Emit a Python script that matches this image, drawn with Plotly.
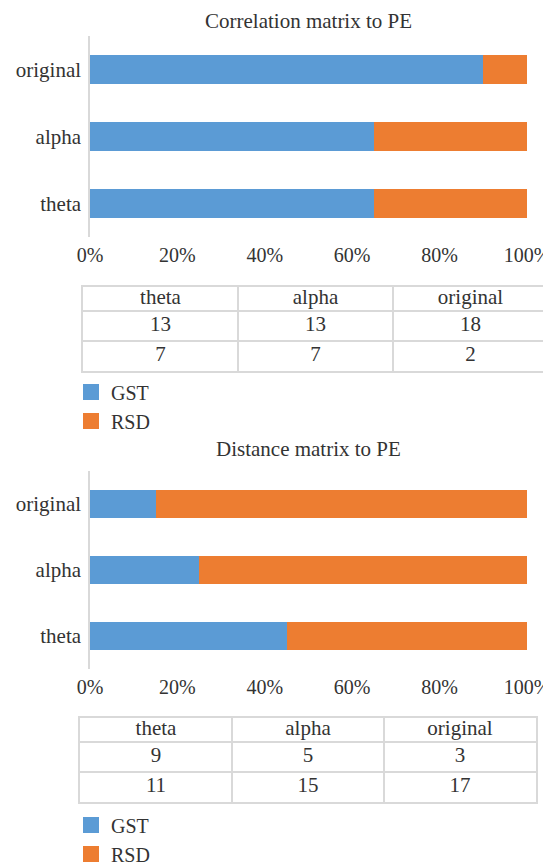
import plotly.graph_objects as go

# The page body has an 8px default margin, so the figure is sized to fill the
# 551x867 window exactly from that offset.
OFF = 8
W, H = 551 - OFF, 867 - OFF

# ---- data ----
categories = ["theta", "alpha", "original"]
series_names = ["GST", "RSD"]
corr_gst = [13, 13, 18]
corr_rsd = [7, 7, 2]
dist_gst = [9, 5, 3]
dist_rsd = [11, 15, 17]
tick_vals = [0, 20, 40, 60, 80, 100]
tick_text = ["0%", "20%", "40%", "60%", "80%", "100%"]
titles = ["Correlation matrix to PE", "Distance matrix to PE"]

BLUE = "#5B9BD5"
ORANGE = "#ED7D31"
TXT = "#333333"
GRID = "#d9d9d9"
FONT = "Liberation Serif, DejaVu Serif, serif"
FS = 21


def fx(x):
    return (x - OFF) / W


def fy(y):
    return 1 - (y - OFF) / H


fig = go.Figure()

# ---- bar charts ----
for (gst, rsd, xa, ya, leg) in [
    (corr_gst, corr_rsd, "x", "y", "legend"),
    (dist_gst, dist_rsd, "x2", "y2", "legend2"),
]:
    for name, vals, col in [(series_names[0], gst, BLUE), (series_names[1], rsd, ORANGE)]:
        fig.add_trace(go.Bar(
            x=vals, y=categories, orientation="h", name=name,
            marker=dict(color=col, line=dict(width=0)),
            xaxis=xa, yaxis=ya, showlegend=False,
        ))
    for name, col in [(series_names[0], BLUE), (series_names[1], ORANGE)]:
        fig.add_trace(go.Scatter(
            x=[None], y=[None], mode="markers", name=name,
            marker=dict(symbol="square", size=16, color=col, line=dict(width=0)),
            xaxis=xa, yaxis=ya, legend=leg, showlegend=True,
        ))

# ---- tables (drawn on cartesian axes) ----
header_h, row_h = 24, 30
row_bounds = [0, header_h, header_h + row_h, header_h + 2 * row_h]
row_centers = [(row_bounds[i] + row_bounds[i + 1]) / 2 for i in range(3)]

for (gst, rsd, xa, ya) in [
    (corr_gst, corr_rsd, "x3", "y3"),
    (dist_gst, dist_rsd, "x4", "y4"),
]:
    xs, ys, ts = [], [], []
    for ci, cat in enumerate(categories):
        for ri, v in enumerate([cat, gst[ci], rsd[ci]]):
            xs.append(ci + 0.5)
            ys.append(row_centers[ri])
            ts.append(str(v))
    fig.add_trace(go.Scatter(
        x=xs, y=ys, text=ts, mode="text", textposition="middle center",
        textfont=dict(family=FONT, size=FS, color=TXT), cliponaxis=False,
        xaxis=xa, yaxis=ya, showlegend=False, hoverinfo="skip",
    ))

bar_x = dict(domain=[fx(90), fx(527)], range=[0, 100], tickmode="array",
             tickvals=tick_vals, ticktext=tick_text, ticklabeloverflow="allow",
             showgrid=False, zeroline=False, showline=False, automargin=False,
             ticks="", ticklabelstandoff=4,
             tickfont=dict(family=FONT, size=20, color=TXT), fixedrange=True)
bar_y = dict(categoryorder="array", categoryarray=categories, showgrid=False,
             zeroline=False, showline=True, linecolor=GRID, linewidth=1.5,
             ticks="", ticklabelstandoff=3, automargin=False,
             ticklabeloverflow="allow",
             tickfont=dict(family=FONT, size=FS, color=TXT), fixedrange=True)


def tab_x(x0, x1):
    return dict(domain=[fx(x0), fx(x1)], range=[0, 3], tickvals=[1, 2],
                showgrid=True, gridcolor=GRID, gridwidth=2, zeroline=False,
                showticklabels=False, ticks="", showline=True, mirror=True,
                linecolor=GRID, linewidth=2, fixedrange=True, automargin=False)


def tab_y(y0, y1):
    return dict(domain=[fy(y1), fy(y0)], range=[row_bounds[-1], 0],
                tickvals=row_bounds[1:3], showgrid=True, gridcolor=GRID,
                gridwidth=2, zeroline=False, showticklabels=False, ticks="",
                showline=True, mirror=True, linecolor=GRID, linewidth=2,
                fixedrange=True, automargin=False)


leg_common = dict(x=fx(71), xanchor="left", yanchor="top", traceorder="normal",
                  bgcolor="rgba(0,0,0,0)", font=dict(family=FONT, size=20, color=TXT),
                  itemclick=False, itemdoubleclick=False)

fig.update_layout(
    width=W, height=H,
    margin=dict(l=0, r=0, t=0, b=0, autoexpand=False),
    paper_bgcolor="white", plot_bgcolor="white",
    barmode="stack", barnorm="percent", bargap=0.565,
    font=dict(family=FONT, size=FS, color=TXT),
    xaxis=dict(bar_x, anchor="y"),
    yaxis=dict(bar_y, domain=[fy(237), fy(36)], anchor="x"),
    xaxis2=dict(bar_x, anchor="y2"),
    yaxis2=dict(bar_y, domain=[fy(669), fy(471)], anchor="x2"),
    xaxis3=dict(tab_x(83, 548), anchor="y3"),
    yaxis3=dict(tab_y(287, 371), anchor="x3"),
    xaxis4=dict(tab_x(80, 536), anchor="y4"),
    yaxis4=dict(tab_y(718, 802), anchor="x4"),
    legend=dict(leg_common, y=fy(372.5)),
    legend2=dict(leg_common, y=fy(805.5)),
    annotations=[
        dict(text=titles[0], x=fx(308), y=1, xref="paper", yref="paper",
             xanchor="center", yanchor="top", showarrow=False, borderpad=0,
             font=dict(family=FONT, size=FS, color=TXT)),
        dict(text=titles[1], x=fx(308), y=fy(449), xref="paper", yref="paper",
             xanchor="center", yanchor="middle", showarrow=False,
             font=dict(family=FONT, size=FS, color=TXT)),
    ],
)

fig.write_html("out.html")
